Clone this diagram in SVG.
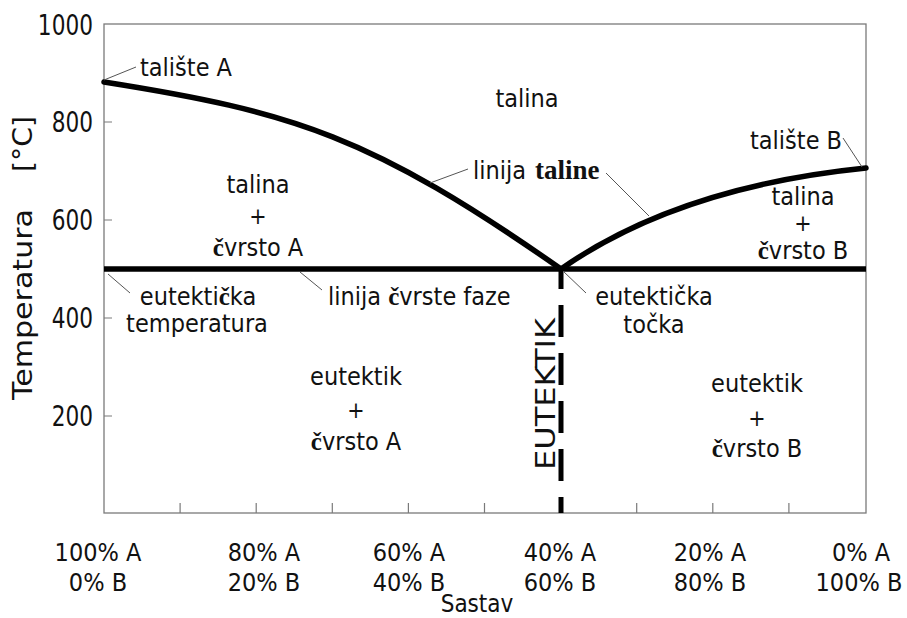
<svg xmlns="http://www.w3.org/2000/svg" width="907" height="618" viewBox="0 0 907 618">
<style>
text{font-family:"DejaVu Sans Condensed","DejaVu Sans",sans-serif;font-stretch:condensed;font-size:25px;fill:#111}
.c{text-anchor:middle}
.e{text-anchor:end;font-size:28px}
.v{font-stretch:normal;font-family:"DejaVu Sans",sans-serif;font-size:26px}
.bs{font-family:"Liberation Serif",serif;font-weight:bold;font-stretch:normal}
.frame{fill:none;stroke:#7a7a7a;stroke-width:1.3}
.tick{stroke:#7a7a7a;stroke-width:1.2}
.thick{fill:none;stroke:#000;stroke-width:5.5;stroke-linecap:round}
.lead{stroke:#555;stroke-width:1}
</style>
<rect width="907" height="618" fill="#fff"/>
<g id="axes">
<rect class="frame" x="104" y="24" width="762" height="489"/>
<path class="tick" d="M104 122h8M104 220h8M104 318h8M104 416h8"/>
<path class="tick" d="M180.1 513v-10M256.2 513v-10M332.3 513v-10M408.4 513v-10M484.5 513v-10M636.7 513v-10M712.8 513v-10M788.9 513v-10"/>
<text class="e" transform="translate(93,35) scale(0.86,1)">1000</text>
<text class="e" transform="translate(93,132) scale(0.86,1)">800</text>
<text class="e" transform="translate(93,230) scale(0.86,1)">600</text>
<text class="e" transform="translate(93,328) scale(0.86,1)">400</text>
<text class="e" transform="translate(93,426) scale(0.86,1)">200</text>
<text class="v" transform="translate(32,400) rotate(-90)" textLength="191" lengthAdjust="spacingAndGlyphs">Temperatura</text>
<text class="v" transform="translate(32,172) rotate(-90)" textLength="56" lengthAdjust="spacingAndGlyphs">[°C]</text>
<g style="font-size:26px">
<text class="c" x="98" y="561">100% A</text><text class="c" x="98" y="591">0% B</text>
<text class="c" x="264" y="561">80% A</text><text class="c" x="264" y="591">20% B</text>
<text class="c" x="409" y="561">60% A</text><text class="c" x="409" y="591">40% B</text>
<text class="c" x="560" y="561">40% A</text><text class="c" x="560" y="591">60% B</text>
<text class="c" x="710" y="561">20% A</text><text class="c" x="710" y="591">80% B</text>
<text class="c" x="861" y="561">0% A</text><text class="c" x="859" y="591">100% B</text>
</g>
<text class="c" x="477" y="612" style="font-size:24px">Sastav</text>
</g>
<g id="connectors">
<path id="liquidus-left" class="thick" d="M104 82C294 112 371 136 561 269"/>
<path id="liquidus-right" class="thick" d="M561 269Q678 187 866 168"/>
<path id="solidus" class="thick" d="M104 269H866" style="stroke-linecap:butt"/>
<path id="eutektik-line" d="M561 269V513" fill="none" stroke="#000" stroke-width="5" stroke-dasharray="32 16" stroke-dashoffset="12"/>
<path class="lead" d="M104 80L136 67M843 138L862 167M430 183L468 169M606 173L649 216M108 274L130 293M300 272L322 290M563 271L586 293"/>
</g>
<g id="taliste-A"><text x="140" y="76">talište A</text></g>
<g id="talina"><text class="c" x="527" y="107">talina</text></g>
<g id="linija-taline"><text x="473" y="179">linija <tspan class="bs" x="535" style="font-size:27px">taline</tspan></text></g>
<g id="taliste-B"><text x="750" y="149">talište B</text></g>
<g id="talina-cvrsto-A">
<text class="c" x="258" y="193">talina</text>
<text class="c" x="258" y="224" style="font-size:23px">+</text>
<text class="c" x="258" y="256"><tspan class="bs">č</tspan>vrsto A</text>
</g>
<g id="talina-cvrsto-B">
<text class="c" x="803" y="205">talina</text>
<text class="c" x="803" y="231" style="font-size:23px">+</text>
<text class="c" x="803" y="259"><tspan class="bs">č</tspan>vrsto B</text>
</g>
<g id="eutekticka-temperatura">
<text class="c" x="198" y="305">eutekti<tspan class="bs">č</tspan>ka</text>
<text class="c" x="197" y="332">temperatura</text>
</g>
<g id="linija-cvrste-faze"><text x="328" y="305">linija <tspan class="bs">č</tspan>vrste faze</text></g>
<g id="eutekticka-tocka">
<text class="c" x="654" y="305">eutektička</text>
<text class="c" x="654" y="333">točka</text>
</g>
<g id="eutektik-label"><text class="v" transform="translate(555,470) rotate(-90)" textLength="152" lengthAdjust="spacingAndGlyphs">EUTEKTIK</text></g>
<g id="eutektik-cvrsto-A">
<text class="c" x="356" y="385">eutektik</text>
<text class="c" x="356" y="418" style="font-size:23px">+</text>
<text class="c" x="356" y="450"><tspan class="bs">č</tspan>vrsto A</text>
</g>
<g id="eutektik-cvrsto-B">
<text class="c" x="757" y="392">eutektik</text>
<text class="c" x="757" y="426" style="font-size:23px">+</text>
<text class="c" x="757" y="457"><tspan class="bs">č</tspan>vrsto B</text>
</g>
</svg>
